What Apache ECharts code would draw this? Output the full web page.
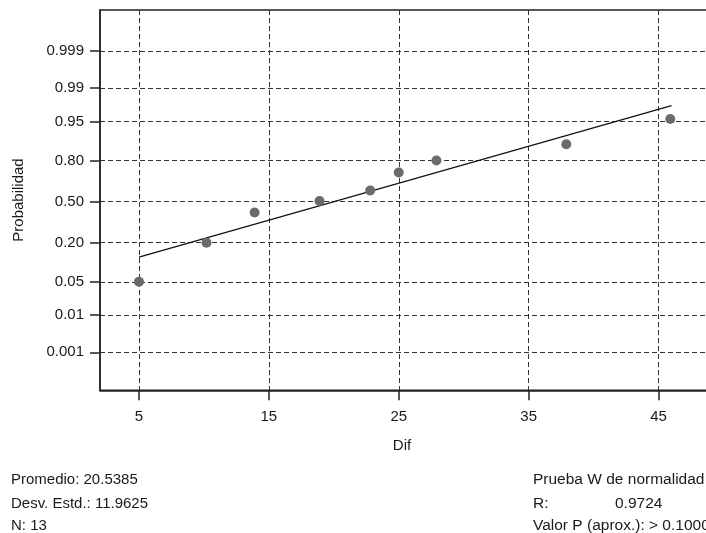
<!DOCTYPE html>
<html>
<head>
<meta charset="utf-8">
<script src="https://cdn.jsdelivr.net/npm/echarts@6/dist/echarts.min.js"></script>
<style>
html,body{margin:0;padding:0;background:#fff;}
#chart{width:706px;height:533px;}
</style>
</head>
<body>
<div id="chart"></div>
<script>
// ---- data ----
const difValues = [5, 10.2, 13.9, 18.9, 22.8, 25.0, 27.9, 37.9, 45.9];
const probValues = [0.05, 0.20, 0.412, 0.505, 0.59, 0.725, 0.80, 0.88, 0.955];
const fitDif = [5, 46];
const fitProb = [0.127, 0.9755];
const probTicks = [0.001, 0.01, 0.05, 0.20, 0.50, 0.80, 0.95, 0.99, 0.999];
const probTickLabels = ['0.001', '0.01', '0.05', '0.20', '0.50', '0.80', '0.95', '0.99', '0.999'];
const difTicks = [5, 15, 25, 35, 45];
const statsLeft = ['Promedio: 20.5385', 'Desv. Estd.: 11.9625', 'N: 13'];
const statsRightTitle = 'Prueba W de normalidad';
const statsRLabel = 'R:';
const statsRValue = '0.9724';
const statsPValue = 'Valor P (aprox.): > 0.1000';

// normal probability scale (inverse normal CDF, Acklam)
function normInv(p) {
  const a = [-3.969683028665376e+01, 2.209460984245205e+02, -2.759285104469687e+02, 1.383577518672690e+02, -3.066479806614716e+01, 2.506628277459239e+00];
  const b = [-5.447609879822406e+01, 1.615858368580409e+02, -1.556989798598866e+02, 6.680131188771972e+01, -1.328068155288572e+01];
  const c = [-7.784894002430293e-03, -3.223964580411365e-01, -2.400758277161838e+00, -2.549732539343734e+00, 4.374664141464968e+00, 2.938163982698783e+00];
  const d = [7.784695709041462e-03, 3.224671290700398e-01, 2.445134137142996e+00, 3.754408661907416e+00];
  const plow = 0.02425, phigh = 1 - plow;
  let q, r;
  if (p < plow) {
    q = Math.sqrt(-2 * Math.log(p));
    return (((((c[0]*q+c[1])*q+c[2])*q+c[3])*q+c[4])*q+c[5]) / ((((d[0]*q+d[1])*q+d[2])*q+d[3])*q+1);
  } else if (p <= phigh) {
    q = p - 0.5; r = q*q;
    return (((((a[0]*r+a[1])*r+a[2])*r+a[3])*r+a[4])*r+a[5])*q / (((((b[0]*r+b[1])*r+b[2])*r+b[3])*r+b[4])*r+1);
  } else {
    q = Math.sqrt(-2 * Math.log(1 - p));
    return -(((((c[0]*q+c[1])*q+c[2])*q+c[3])*q+c[4])*q+c[5]) / ((((d[0]*q+d[1])*q+d[2])*q+d[3])*q+1);
  }
}

const zTicks = probTicks.map(normInv);
const pointData = difValues.map((x, i) => [x, normInv(probValues[i])]);
const fitData = fitDif.map((x, i) => [x, normInv(fitProb[i])]);

function probLabel(v) {
  let best = 0, bd = Infinity;
  zTicks.forEach((z, i) => { const dd = Math.abs(z - v); if (dd < bd) { bd = dd; best = i; } });
  return probTickLabels[best];
}

const FONT = 'Liberation Sans';
const TXT = '#1a1a1a';
const dash = { color: '#333', width: 1, type: [5, 3] };
const F15 = '15px ' + FONT;
const F155 = '15.5px ' + FONT;

const chart = echarts.init(document.getElementById('chart'), null, { renderer: 'canvas' });
chart.setOption({
  animation: false,
  backgroundColor: '#fff',
  grid: {
    left: 100, top: 10, width: 623.5, height: 380.3,
    outerBoundsMode: 'none', containLabel: false,
    show: true, borderColor: '#222', borderWidth: 1.5, backgroundColor: 'transparent'
  },
  xAxis: {
    type: 'value', min: 2, max: 50,
    axisLine: { show: true, onZero: false, lineStyle: { color: '#222', width: 1.5 } },
    axisTick: { show: true, customValues: difTicks, length: 10, lineStyle: { color: '#222', width: 1.5 } },
    axisLabel: { customValues: difTicks, margin: 19, fontFamily: FONT, fontSize: 15, color: TXT },
    splitLine: { show: true, lineStyle: dash }
  },
  yAxis: {
    type: 'value', min: -3.87, max: 3.93,
    axisLine: { show: true, onZero: false, lineStyle: { color: '#222', width: 1.5 } },
    axisTick: { show: true, customValues: zTicks, length: 10, lineStyle: { color: '#222', width: 1.5 } },
    axisLabel: { customValues: zTicks, margin: 16, fontFamily: FONT, fontSize: 15, color: TXT, formatter: probLabel },
    splitLine: { show: true, lineStyle: dash }
  },
  graphic: [
    { type: 'text', x: 18.5, y: 200, rotation: Math.PI / 2,
      style: { text: 'Probabilidad', font: F15, fill: TXT, textAlign: 'center', textVerticalAlign: 'middle' } },
    { type: 'text', x: 402, y: 446,
      style: { text: 'Dif', font: F15, fill: TXT, textAlign: 'center', textVerticalAlign: 'middle' } },
    { type: 'text', x: 11, y: 480, style: { text: statsLeft[0], font: F15, fill: TXT, textVerticalAlign: 'middle' } },
    { type: 'text', x: 11, y: 503.5, style: { text: statsLeft[1], font: F15, fill: TXT, textVerticalAlign: 'middle' } },
    { type: 'text', x: 11, y: 526, style: { text: statsLeft[2], font: F15, fill: TXT, textVerticalAlign: 'middle' } },
    { type: 'text', x: 533, y: 480, style: { text: statsRightTitle, font: F155, fill: TXT, textVerticalAlign: 'middle' } },
    { type: 'text', x: 533, y: 503.5, style: { text: statsRLabel, font: F155, fill: TXT, textVerticalAlign: 'middle' } },
    { type: 'text', x: 615, y: 503.5, style: { text: statsRValue, font: F155, fill: TXT, textVerticalAlign: 'middle' } },
    { type: 'text', x: 533, y: 526, style: { text: statsPValue, font: F155, fill: TXT, textVerticalAlign: 'middle' } }
  ],
  series: [
    {
      type: 'line', data: fitData, symbol: 'none', silent: true,
      lineStyle: { color: '#111', width: 1.3 }, z: 3
    },
    {
      type: 'scatter', data: pointData, symbol: 'circle', symbolSize: 10,
      itemStyle: { color: '#6b6b6b', opacity: 1 }, z: 4
    }
  ]
});
</script>
</body>
</html>
